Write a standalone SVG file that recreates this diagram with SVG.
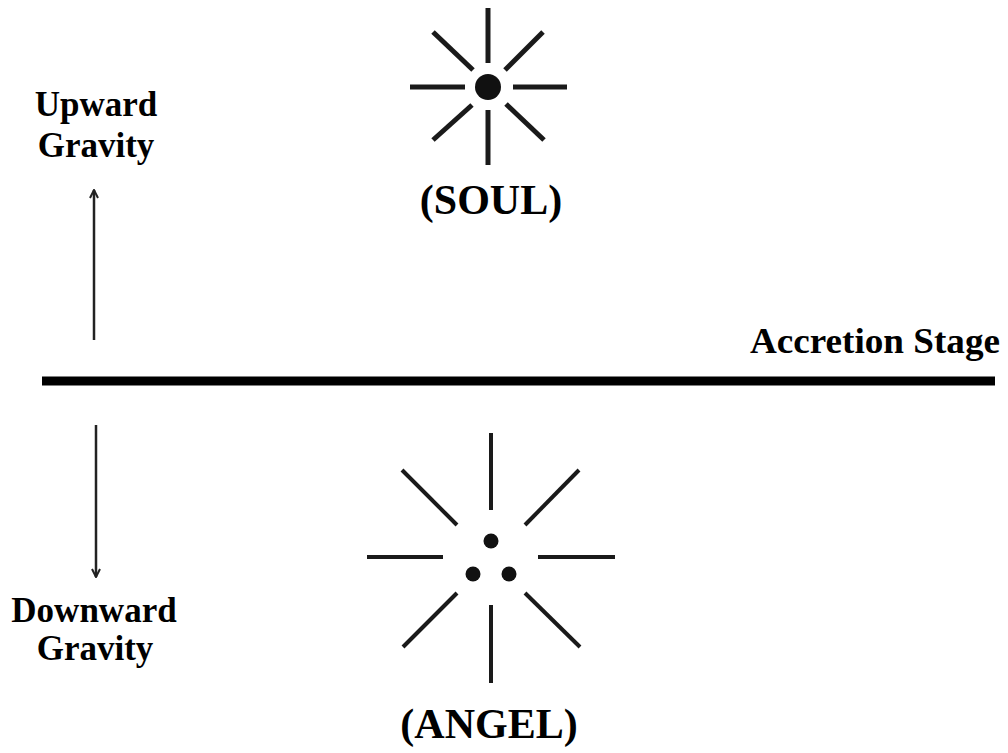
<svg xmlns="http://www.w3.org/2000/svg" width="1008" height="753" viewBox="0 0 1008 753">
<style>
.t{font-family:"Liberation Serif","Times New Roman",serif;font-weight:bold;fill:#000;text-anchor:middle}
.ray{stroke:#1a1a1a;stroke-linecap:butt;fill:none}
.arr{stroke:#222;stroke-width:2.5;fill:none}
</style>
<defs>
<marker id="ah" viewBox="0 0 10 10" refX="9" refY="5" markerWidth="10" markerHeight="10" markerUnits="userSpaceOnUse" orient="auto">
<path d="M1,1 L9,5 L1,9" fill="none" stroke="#222" stroke-width="2"/>
</marker>
</defs>
<rect width="1008" height="753" fill="#fff"/>
<g id="soul">
<g class="ray" stroke-width="5">
<line x1="488" y1="8" x2="488" y2="63"/>
<line x1="488" y1="110" x2="488" y2="165"/>
<line x1="410" y1="87" x2="465" y2="87"/>
<line x1="513" y1="87" x2="567" y2="87"/>
<line x1="433" y1="32" x2="473" y2="70"/>
<line x1="543" y1="32" x2="505" y2="70"/>
<line x1="472" y1="105" x2="433" y2="140"/>
<line x1="506" y1="104" x2="544" y2="140"/>
</g>
<circle cx="488" cy="87" r="13" fill="#111"/>
<text class="t" x="491" y="214" font-size="42">(SOUL)</text>
</g>
<g id="angel">
<g class="ray" stroke-width="4">
<line x1="491" y1="433" x2="491" y2="510"/>
<line x1="491" y1="605" x2="491" y2="683"/>
<line x1="367" y1="557" x2="443" y2="557"/>
<line x1="538" y1="557" x2="615" y2="557"/>
<line x1="402" y1="470" x2="457" y2="525"/>
<line x1="579" y1="470" x2="525" y2="525"/>
<line x1="457" y1="593" x2="403" y2="647"/>
<line x1="525" y1="593" x2="580" y2="647"/>
</g>
<circle cx="491" cy="541" r="7.5" fill="#111"/>
<circle cx="473" cy="574" r="7.5" fill="#111"/>
<circle cx="509" cy="574" r="7.5" fill="#111"/>
<text class="t" x="489" y="738" font-size="42">(ANGEL)</text>
</g>
<g id="upward">
<text class="t" x="96" y="116" font-size="35">Upward</text>
<text class="t" x="96" y="157" font-size="35">Gravity</text>
</g>
<g id="downward">
<text class="t" x="94" y="622" font-size="35">Downward</text>
<text class="t" x="95" y="660" font-size="35">Gravity</text>
</g>
<g id="stage">
<line x1="42" y1="381" x2="995" y2="381" stroke="#000" stroke-width="9"/>
<text class="t" x="875" y="353" font-size="35" textLength="250" lengthAdjust="spacingAndGlyphs">Accretion Stage</text>
</g>
<g id="connectors">
<line class="arr" x1="94" y1="340" x2="94" y2="190" marker-end="url(#ah)"/>
<line class="arr" x1="96" y1="425" x2="96" y2="577" marker-end="url(#ah)"/>
</g>
</svg>
